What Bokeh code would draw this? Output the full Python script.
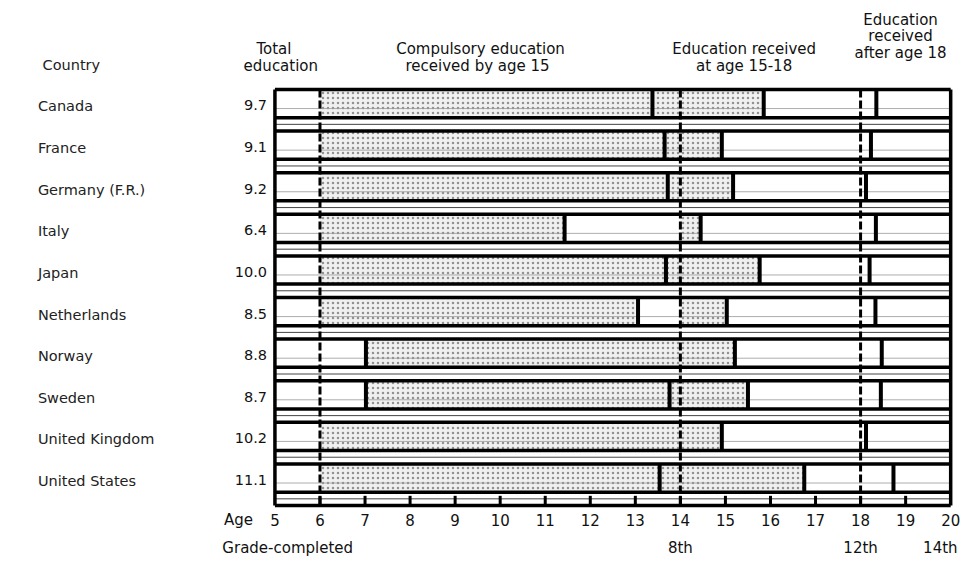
from bokeh.plotting import figure
from bokeh.models import Range1d, ColumnDataSource
from bokeh.core.properties import value
from bokeh.embed import file_html
from bokeh.resources import INLINE

# ---------------- data ----------------
countries = ["Canada", "France", "Germany (F.R.)", "Italy", "Japan",
             "Netherlands", "Norway", "Sweden", "United Kingdom", "United States"]
total_education = ["9.7", "9.1", "9.2", "6.4", "10.0", "8.5", "8.8", "8.7", "10.2", "11.1"]

# ages (years) at which a thick divider falls in each country's bar
dividers = [
    [13.38, 15.85, 18.35],
    [13.65, 14.92, 18.23],
    [13.72, 15.17, 18.12],
    [11.43, 14.45, 18.34],
    [13.68, 15.76, 18.20],
    [13.06, 15.03, 18.33],
    [7.02, 15.21, 18.47],
    [7.02, 13.76, 15.50, 18.45],
    [14.92, 18.12],
    [13.54, 16.75, 18.73],
]
# stippled spans (education received), start age / end age
stipple_start = [
    [6.0, 13.38], [6.0, 13.65], [6.0, 13.72], [6.0, 14.0], [6.0, 13.68],
    [6.0, 14.0], [7.02], [7.02, 13.76], [6.0], [6.0, 13.54],
]
stipple_end = [
    [13.38, 15.85], [13.65, 14.92], [13.72, 15.17], [11.43, 14.45], [13.68, 15.76],
    [13.06, 15.03], [15.21], [13.76, 15.50], [14.92], [13.54, 16.75],
]

age_min, age_max = 5, 20
age_ticks = list(range(5, 21))
marker_ages = [6, 14, 18]
grade_ages = [14, 18, 20]
grade_labels = ["8th", "12th", "14th"]

# ---------------- layout helpers ----------------
W, H = 961, 559
PX_YEAR = 45.8                 # reference pixels per year
X5 = 279.0                     # reference x of age 5
def X(ref):                    # reference-pixel x -> data x (years)
    return 5 + (ref - X5) / PX_YEAR
ROW = 42.8                     # reference pixels per row
Y0 = 106.0                     # reference y of first row
def Y(ref):                    # reference-pixel y -> data y (row units)
    return (ref - Y0) / ROW

HALF = 14.5 / ROW              # half bar height
GAP = 1 - 2 * HALF

p = figure(width=W, height=H, output_backend="svg", toolbar_location=None,
           x_range=Range1d(X(0), X(977)),
           y_range=Range1d(Y(575), Y(0)),
           min_border=0, outline_line_color=None)
p.axis.visible = False
p.grid.visible = False
p.background_fill_color = "white"
p.border_fill_color = "white"

n = len(countries)
rows = list(range(n))
FONT = value("DejaVu Sans")

# white bar bodies
p.quad(left=[age_min] * n, right=[age_max] * n,
       top=[r - HALF for r in rows], bottom=[r + HALF for r in rows],
       fill_color="white", line_color=None)

# stippled spans
sl, sr, st, sb = [], [], [], []
for r in rows:
    for a, b in zip(stipple_start[r], stipple_end[r]):
        sl.append(a); sr.append(b); st.append(r - HALF); sb.append(r + HALF)
p.quad(left=sl, right=sr, top=st, bottom=sb,
       fill_color="#f0f0f0", line_color=None,
       hatch_pattern="dot", hatch_color="#444444", hatch_alpha=0.55,
       hatch_scale=5, hatch_weight=1)

# faint ruled lines inside bars and in the gaps
p.segment(x0=[age_min] * n, x1=[age_max] * n,
          y0=[r + 0.12 for r in rows], y1=[r + 0.12 for r in rows],
          line_color="#999999", line_width=1, line_alpha=0.8)
p.segment(x0=[age_min] * n, x1=[age_max] * n,
          y0=[r + 0.5 for r in rows], y1=[r + 0.5 for r in rows],
          line_color="#444444", line_width=1)

# thick top / bottom lines of every bar and the tick strip
bottom = n - 1 + HALF + GAP
top = -HALF
hy = [r - HALF for r in rows] + [r + HALF for r in rows] + [bottom]
p.segment(x0=[age_min] * len(hy), x1=[age_max] * len(hy), y0=hy, y1=hy,
          line_color="black", line_width=3.5)

# thick dividers
dx, dy0, dy1 = [], [], []
for r in rows:
    for a in dividers[r]:
        dx.append(a); dy0.append(r - HALF); dy1.append(r + HALF)
p.segment(x0=dx, x1=dx, y0=dy0, y1=dy1, line_color="black", line_width=4)

# outer frame
p.segment(x0=[age_min, age_max], x1=[age_min, age_max], y0=[top, top],
          y1=[bottom, bottom], line_color="black", line_width=3.5)

# dashed age markers
p.segment(x0=marker_ages, x1=marker_ages, y0=[top] * 3, y1=[bottom] * 3,
          line_color="black", line_width=3, line_dash="8 3")

# ticks in strip
tk = [a for a in age_ticks if age_min < a < age_max]
p.segment(x0=tk, x1=tk, y0=[bottom] * len(tk), y1=[bottom - 10 / ROW] * len(tk),
          line_color="black", line_width=3)

# ---------------- texts ----------------
def txt(xs, ys, texts, size="15px", align="center", color="#111111"):
    src = ColumnDataSource(dict(x=xs, y=ys, t=texts))
    p.text(x="x", y="y", text="t", source=src, text_font=FONT,
           text_font_size=value(size), text_align=align,
           text_baseline="middle", text_color=color)

# country names and totals
txt([X(38)] * n, [r + 3 / ROW for r in rows], countries, size="14.5px", align="left",
    color="#222222")
txt([X(271)] * n, [r + 2 / ROW for r in rows], total_education, size="14.5px", align="right")

# headers
txt([X(72)], [Y(66)], ["Country"], size="14.5px", color="#222222")
txt([X(278), X(285)], [Y(50), Y(67)], ["Total", "education"])
txt([X(488), X(485)], [Y(50), Y(67)], ["Compulsory education", "received by age 15"])
txt([X(756), X(756)], [Y(50), Y(67)], ["Education received", "at age 15-18"])
txt([X(915)] * 3, [Y(20), Y(37), Y(54)], ["Education", "received", "after age 18"])

# age axis labels
txt(age_ticks, [Y(534)] * len(age_ticks), [str(a) for a in age_ticks])
txt([X(242)], [Y(534)], ["Age"])
txt(grade_ages[:2], [Y(563)] * 2, grade_labels[:2])
txt([X(973)], [Y(563)], grade_labels[2:], align="right")
txt([X(292)], [Y(563)], ["Grade-completed"])

open("out.html", "w").write(file_html(p, INLINE))
